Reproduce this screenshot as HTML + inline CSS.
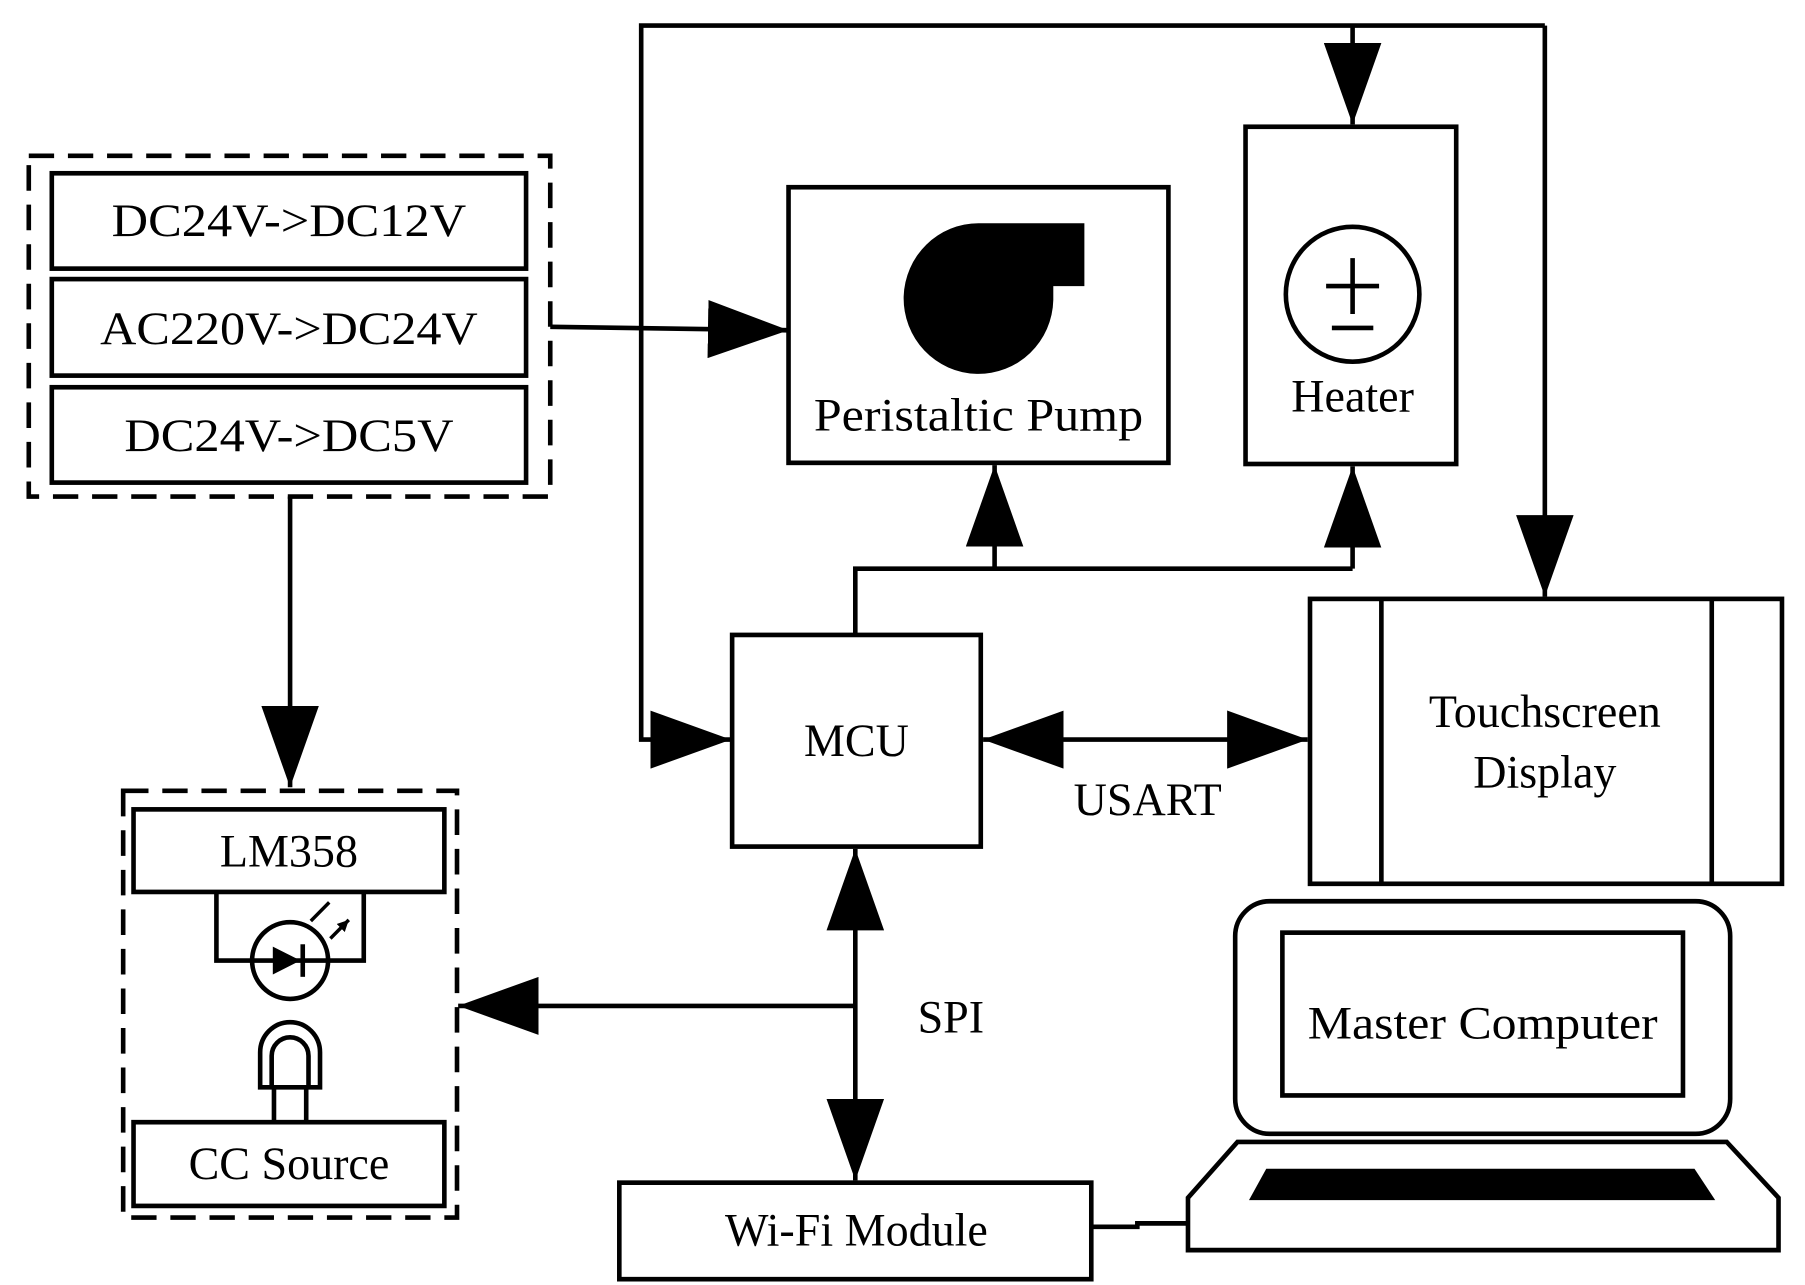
<!DOCTYPE html>
<html><head><style>html,body{margin:0;padding:0;background:#fff}svg{display:block}</style></head>
<body>
<svg width="1805" height="1285" viewBox="0 0 1568 1105" preserveAspectRatio="none" xmlns="http://www.w3.org/2000/svg" font-family="Liberation Serif, serif" font-size="40" text-anchor="middle">
<defs>
<marker id="a" viewBox="0 0 70 50" refX="70" refY="25" markerWidth="70" markerHeight="50" markerUnits="userSpaceOnUse" orient="auto-start-reverse"><path d="M0,0 L70,25 L0,50 Z" fill="#000"/></marker>
<marker id="s" viewBox="0 0 10 10" refX="10" refY="5" markerWidth="10" markerHeight="10" markerUnits="userSpaceOnUse" orient="auto"><path d="M0,0 L10,5 L0,10 Z" fill="#000"/></marker>
</defs>
<g fill="none" stroke="#000" stroke-width="4">
<rect x="25" y="134" width="453" height="293" stroke-dasharray="22,12"/>
<rect x="45" y="149" width="412" height="82"/>
<rect x="45" y="240" width="412" height="83"/>
<rect x="45" y="333" width="412" height="82"/>
<path d="M478,281 L685,284" marker-end="url(#a)"/>
<path d="M1342,22 L557,22 L557,636 L635,636" marker-end="url(#a)"/>
<path d="M1175,22 L1175,107" marker-end="url(#a)"/>
<path d="M1342,22 L1342,513" marker-end="url(#a)"/>
<rect x="685" y="161" width="330" height="237"/>
<rect x="1082" y="109" width="183" height="290"/>
<circle cx="1175" cy="253" r="58"/>
<rect x="636" y="546" width="216" height="182"/>
<path d="M743,546 L743,489 L1175,489"/>
<path d="M864,489 L864,400" marker-end="url(#a)"/>
<path d="M1175,489 L1175,401" marker-end="url(#a)"/>
<rect x="1138" y="515" width="410" height="245"/>
<path d="M1200,515 V760 M1487,515 V760"/>
<path d="M854,636 L1136,636" marker-start="url(#a)" marker-end="url(#a)"/>
<path d="M743,730 L743,1015" marker-start="url(#a)" marker-end="url(#a)"/>
<path d="M743,865 L398,865" marker-end="url(#a)"/>
<path d="M252,427 L252,677" marker-end="url(#a)"/>
<rect x="107" y="680" width="290" height="367" stroke-dasharray="22,12"/>
<rect x="116" y="696" width="270" height="71"/>
<circle cx="252" cy="826" r="33" fill="#fff"/>
<path d="M188,767 V826 H316 V767"/>
<path d="M263,812 V840"/>
<path d="M270,792 L286,776 M287,807 L303,791" stroke-width="3" marker-end="url(#s)"/>
<path d="M226,935 V905 A26,26 0 0 1 278,905 V935 Z M236,935 V908 A16,16 0 0 1 268,908 V935 M238,935 V965 M266,935 V965"/>
<rect x="116" y="965" width="270" height="72"/>
<rect x="538" y="1017" width="410" height="83"/>
<path d="M948,1055 L988,1055 L988,1052 L1032,1052"/>
<rect x="1073" y="775" width="430" height="200" rx="30"/>
<rect x="1114" y="802" width="348" height="140"/>
<path d="M1075,982 L1500,982 L1545,1030 L1545,1075 L1032,1075 L1032,1030 Z"/>
</g>
<path d="M237,814 L261,826 L237,838 Z" fill="#000"/>
<path d="M1100,1005 L1472,1005 L1490,1032 L1085,1032 Z" fill="#000"/>
<path d="M785,255 A65,65 0 1 0 915,258 L915,246 L942,246 L942,192 L850,192 A65,65 0 0 0 785,255 Z" fill="#000"/>
<g stroke="#000" stroke-width="4"><path d="M1175,222 V270 M1152,246 H1198 M1157,282 H1193"/></g>
<text x="251" y="203" textLength="308" lengthAdjust="spacingAndGlyphs">DC24V-&gt;DC12V</text>
<text x="251" y="296" textLength="328" lengthAdjust="spacingAndGlyphs">AC220V-&gt;DC24V</text>
<text x="251" y="388" textLength="286" lengthAdjust="spacingAndGlyphs">DC24V-&gt;DC5V</text>
<text x="850" y="370" textLength="286" lengthAdjust="spacingAndGlyphs">Peristaltic Pump</text>
<text x="1175" y="354">Heater</text>
<text x="744" y="650">MCU</text>
<text x="1342" y="625">Touchscreen</text>
<text x="1342" y="677">Display</text>
<text x="997" y="701">USART</text>
<text x="826" y="888">SPI</text>
<text x="251" y="745">LM358</text>
<text x="251" y="1014">CC Source</text>
<text x="744" y="1071">Wi-Fi Module</text>
<text x="1288" y="893" textLength="304" lengthAdjust="spacingAndGlyphs">Master Computer</text>
</svg>
</body></html>
